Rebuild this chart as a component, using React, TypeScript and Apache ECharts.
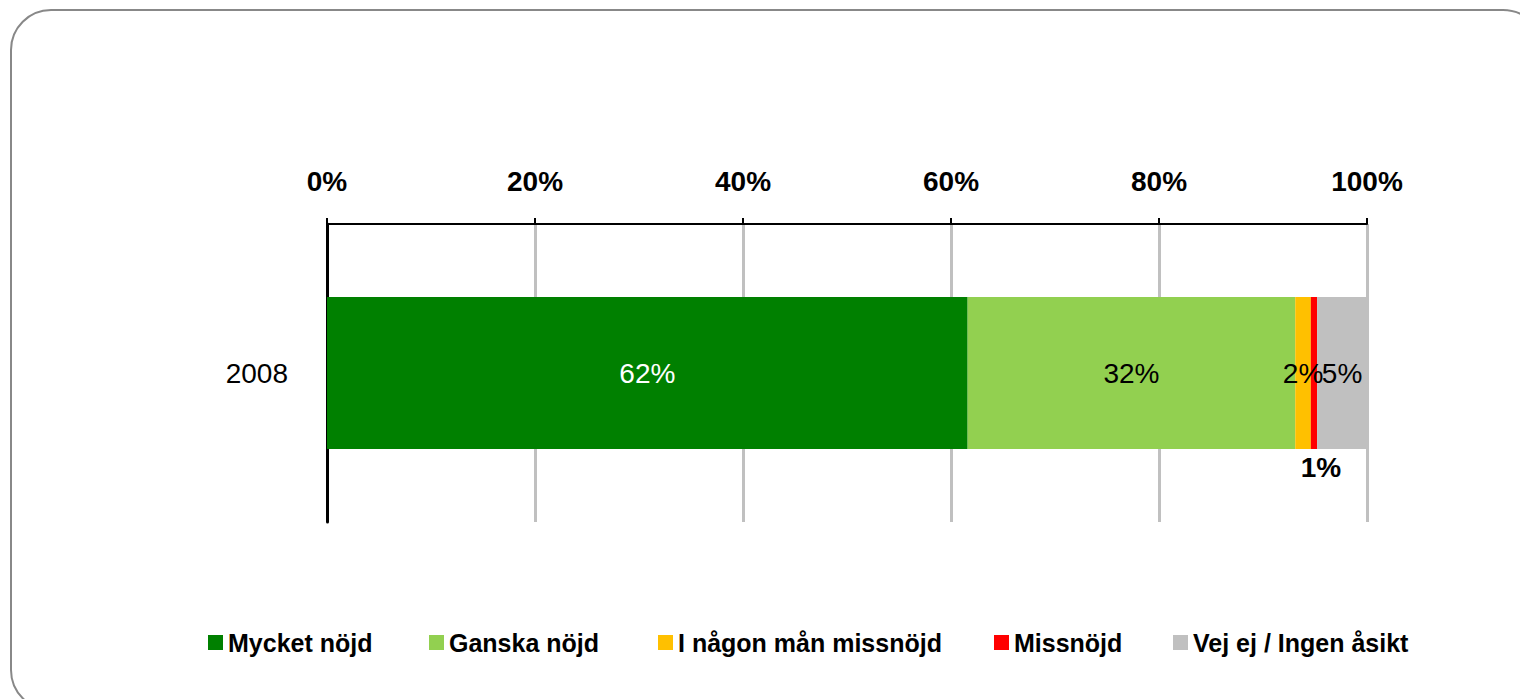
import React, { useEffect, useRef } from "react";
import * as echarts from "echarts";

const categories = ["2008"];
const seriesNames = [
  "Mycket nöjd",
  "Ganska nöjd",
  "I någon mån missnöjd",
  "Missnöjd",
  "Vej ej / Ingen åsikt",
];
const seriesValues = [61.6, 31.5, 1.5, 0.6, 4.8];
const seriesColors = ["#008000", "#92D050", "#FFC000", "#FF0000", "#C0C0C0"];
const labelColors = ["#ffffff", "#000000", "#000000", "#000000", "#000000"];
const legendLefts = [208, 429, 658, 994, 1173];

const FONT = "'Liberation Sans', Arial, sans-serif";

export default function App() {
  const ref = useRef<HTMLDivElement>(null);
  useEffect(() => {
    if (!ref.current) return;
    const chart = echarts.init(ref.current, undefined, { renderer: "svg" });
    const series = seriesNames.map((name, i) => {
      const isSmallRed = i === 3;
      return {
        name,
        type: "bar",
        stack: "total",
        barWidth: 152,
        data: [seriesValues[i]],
        itemStyle: { color: seriesColors[i] },
        label: {
          show: true,
          position: isSmallRed ? "bottom" : "inside",
          distance: 4,
          offset: isSmallRed ? [7, 0] : [0, 0],
          formatter: (p: any) => Math.round(p.value) + "%",
          color: labelColors[i],
          fontFamily: FONT,
          fontSize: 28,
          fontWeight: isSmallRed ? "bold" : "normal",
        },
      };
    });
    const legends = seriesNames.map((name, i) => ({
      show: true,
      data: [name],
      left: legendLefts[i],
      top: 630,
      padding: 0,
      itemWidth: 15,
      itemHeight: 15,
      itemGap: 0,
      icon: "rect",
      selectedMode: false,
      textStyle: {
        fontFamily: FONT,
        fontSize: 25,
        fontWeight: "bold",
        color: "#000",
      },
    }));
    chart.setOption({
      animation: false,
      backgroundColor: "#ffffff",
      graphic: [
        {
          type: "rect",
          shape: { x: 11, y: 10, width: 1532, height: 700, r: 40 },
          style: { fill: "none", stroke: "#888888", lineWidth: 2 },
          silent: true,
        },
      ],
      grid: { left: 327, right: 153, top: 224, bottom: 177 },
      legend: legends,
      xAxis: {
        type: "value",
        position: "top",
        min: 0,
        max: 100,
        interval: 20,
        axisLine: { show: true, lineStyle: { color: "#000", width: 2 } },
        axisTick: { show: true, length: 6, lineStyle: { color: "#000", width: 2 } },
        axisLabel: {
          formatter: "{value}%",
          fontFamily: FONT,
          fontSize: 28,
          fontWeight: "bold",
          color: "#000",
          margin: 29,
        },
        splitLine: { show: true, lineStyle: { color: "#C0C0C0", width: 3 } },
      },
      yAxis: {
        type: "category",
        data: categories,
        inverse: true,
        axisLine: { show: true, lineStyle: { color: "#000", width: 3 } },
        axisTick: { show: false },
        axisLabel: {
          fontFamily: FONT,
          fontSize: 28,
          color: "#000",
          margin: 39,
        },
      },
      series,
    });
    return () => chart.dispose();
  }, []);
  return (
    <div
      ref={ref}
      style={{ position: "absolute", left: 0, top: 0, width: 1520, height: 699 }}
    />
  );
}
